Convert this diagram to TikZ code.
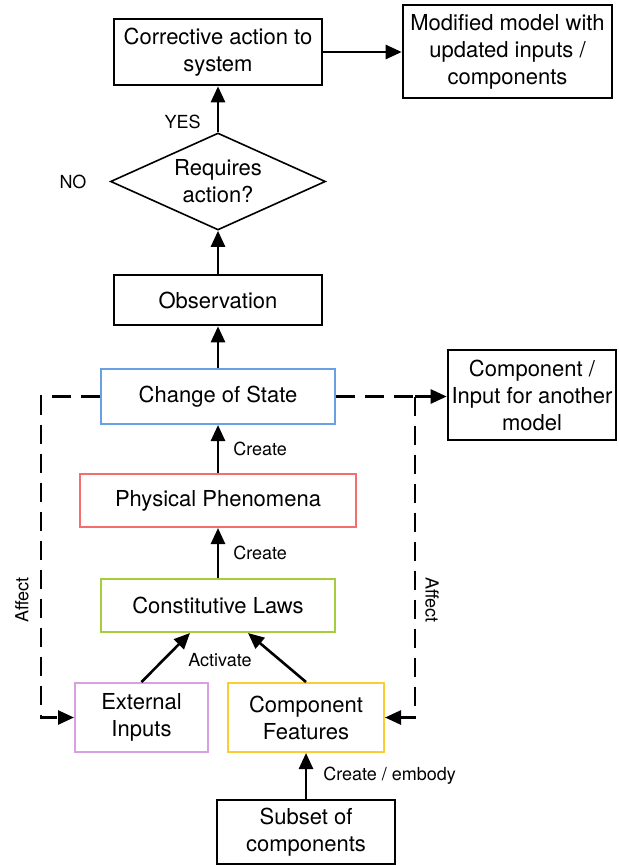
\documentclass[tikz,border=0pt]{standalone}
\usepackage{fontspec}
\setmainfont{TeX Gyre Heros}
\usetikzlibrary{shapes.geometric,arrows.meta}
\definecolor{stateblue}{RGB}{105,160,225}
\definecolor{phenred}{RGB}{245,110,110}
\definecolor{lawgreen}{RGB}{165,205,60}
\definecolor{inputviolet}{RGB}{215,160,225}
\definecolor{featyellow}{RGB}{250,205,50}
\begin{document}
\begin{tikzpicture}[x=0.5pt,y=-0.5pt]
\tikzstyle{every node}+=[inner sep=0pt,font=\fontsize{11}{13.5}\selectfont]
\tikzstyle{blackbox}=[draw=black,line width=1.3pt,align=center]
\tikzstyle{colbox}=[draw,line width=1pt,align=center]
\tikzstyle{link}=[line width=1.3pt,-{Triangle[length=8pt,width=7pt]}]
\tikzstyle{dashlink}=[link,dash pattern=on 9.5pt off 5pt]
\tikzstyle{lbl}=[font=\fontsize{9}{11}\selectfont]
\useasboundingbox (0,0) rectangle (618,866);
\node [blackbox,minimum width=104pt,minimum height=33pt] (correct) at (218,52) {Corrective action to\\system};
\node [blackbox,minimum width=104.5pt,minimum height=46.5pt] (modified) at (507.5,51.5) {Modified model with\\updated inputs /\\components};
\node [draw,shape=diamond,aspect=2.2,line width=0.8pt,minimum width=107.5pt,minimum height=48.5pt,align=center] (decide) at (218,181.5) {Requires\\action?};
\node [lbl] (no) at (73,182) {NO};
\node [blackbox,minimum width=104pt,minimum height=25pt] (obs) at (218,300) {Observation};
\node [colbox,draw=stateblue,minimum width=117pt,minimum height=27.5pt] (change) at (218,396.5) {Change of State};
\node [colbox,draw=phenred,minimum width=138pt,minimum height=26.5pt] (phys) at (218,500.5) {Physical Phenomena};
\node [colbox,draw=lawgreen,minimum width=117pt,minimum height=26.5pt] (laws) at (218,605.5) {Constitutive Laws};
\node [colbox,draw=inputviolet,minimum width=66.5pt,minimum height=34.5pt] (ext) at (141.5,717.5) {External\\Inputs};
\node [colbox,draw=featyellow,minimum width=78pt,minimum height=34.5pt] (feat) at (306,717.5) {Component\\Features};
\node [blackbox,minimum width=89pt,minimum height=32pt] (subset) at (306,832) {Subset of\\components};
\node [blackbox,minimum width=84pt,minimum height=45pt] (other) at (532,395) {Component /\\Input for another\\model};
\draw [link] (correct.east) -- (modified.west |- correct.east);
\draw [link] (decide.north) -- (correct.south) node [lbl,pos=0.22,left=8pt] {YES};
\draw [link] (obs.north) -- (decide.south);
\draw [link] (change.north) -- (obs.south);
\draw [link] (phys.north) -- (change.south) node [lbl,midway,right=7pt] {Create};
\draw [link] (laws.north) -- (phys.south) node [lbl,midway,right=7pt] {Create};
\draw [link] (ext.north) -- ([xshift=-14pt]laws.south);
\draw [link] (feat.north) -- ([xshift=15pt]laws.south);
\node [lbl] (activate) at (220,660) {Activate};
\draw [link] (subset.north) -- (feat.south) node [lbl,midway,right=8pt] {Create / embody};
\draw [dashlink] (change.west) -- ++(-59,0) |- (ext.west);
\node [lbl,rotate=90] (affectl) at (22,600) {Affect};
\coordinate (split) at (415,396.5);
\draw [dashlink,-] (change.east) -- (split);
\draw [dashlink] (split) -- (split -| other.west);
\draw [dashlink] (split) |- (feat.east);
\node [lbl,rotate=-90] (affectr) at (432,600) {Affect};
\end{tikzpicture}
\end{document}
